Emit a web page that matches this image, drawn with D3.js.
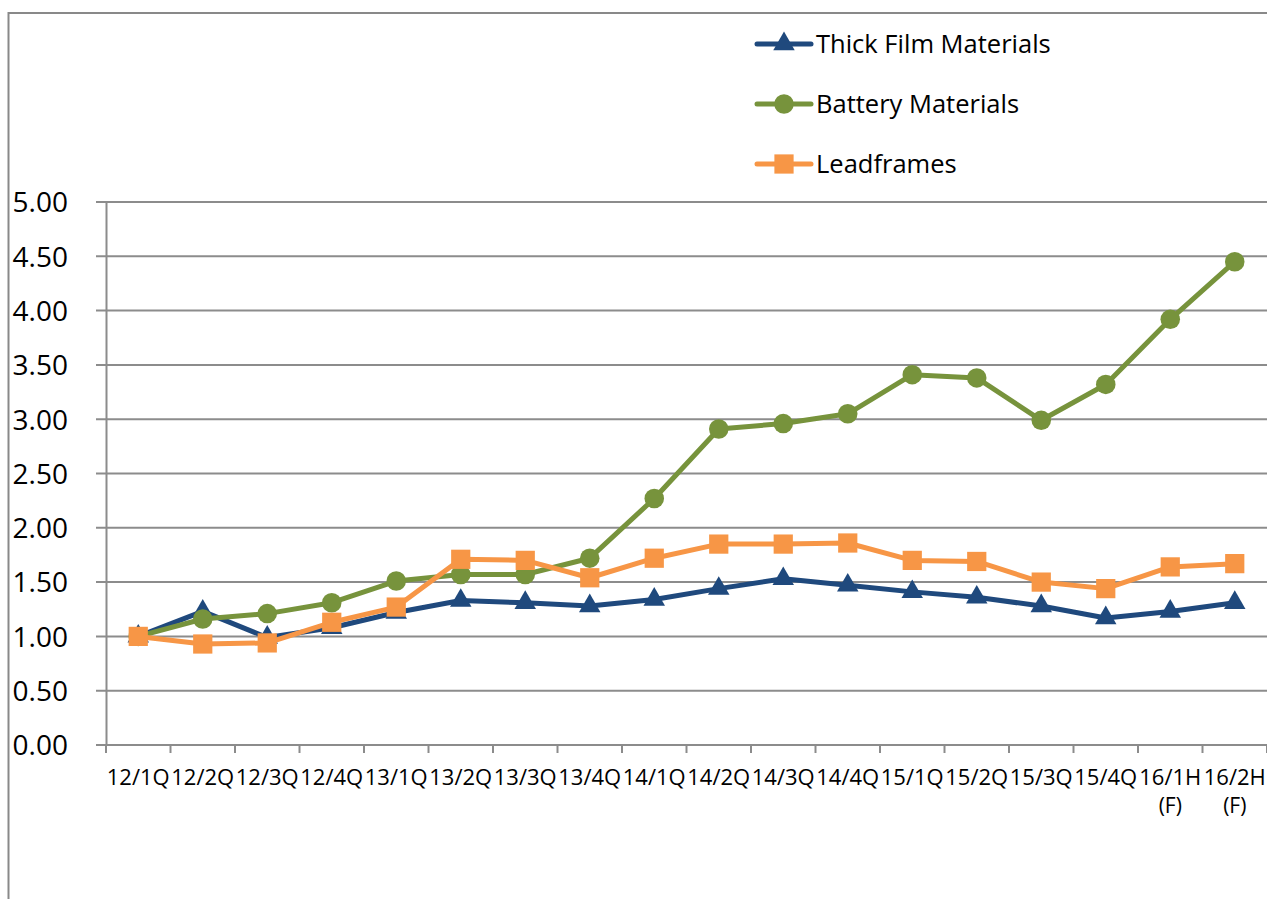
<!DOCTYPE html>
<html>
<head>
<meta charset="utf-8">
<script src="https://cdn.jsdelivr.net/npm/d3@7"></script>
<style>
  body { margin: 0; background: #fff; }
  text { font-family: "Open Sans", "Noto Sans", sans-serif; fill: #000; }
</style>
</head>
<body>
<div id="chart"></div>
<script>
var svgWidth = 1267;
var svgHeight = 899;

// quarters on the x axis, second line only for forecasts
var categories = ["12/1Q", "12/2Q", "12/3Q", "12/4Q", "13/1Q", "13/2Q", "13/3Q", "13/4Q",
  "14/1Q", "14/2Q", "14/3Q", "14/4Q", "15/1Q", "15/2Q", "15/3Q", "15/4Q", "16/1H", "16/2H"];
var subLabels = ["", "", "", "", "", "", "", "", "", "", "", "", "", "", "", "", "(F)", "(F)"];

var thickFilm = [1.00, 1.23, 0.99, 1.08, 1.22, 1.33, 1.31, 1.28, 1.34, 1.44, 1.53, 1.47,
  1.41, 1.36, 1.28, 1.17, 1.23, 1.31];
var battery = [1.00, 1.16, 1.21, 1.31, 1.51, 1.57, 1.57, 1.72, 2.27, 2.91, 2.96, 3.05,
  3.41, 3.38, 2.99, 3.32, 3.92, 4.45];
var leadframes = [1.00, 0.93, 0.94, 1.13, 1.27, 1.71, 1.70, 1.54, 1.72, 1.85, 1.85, 1.86,
  1.70, 1.69, 1.50, 1.44, 1.64, 1.67];

var yTicks = [0, 0.5, 1, 1.5, 2, 2.5, 3, 3.5, 4, 4.5, 5];

var series = [
  {name: "Thick Film Materials", values: thickFilm, color: "#1F497D", symbol: d3.symbolTriangle, size: 200},
  {name: "Battery Materials", values: battery, color: "#77933C", symbol: d3.symbolCircle, size: 300},
  {name: "Leadframes", values: leadframes, color: "#F79646", symbol: d3.symbolSquare, size: 370}
];

var margin = {top: 202, left: 106, right: 0, bottom: 154};
var width = svgWidth - margin.left - margin.right;
var height = svgHeight - margin.top - margin.bottom;

var svg = d3.select("#chart")
  .append("svg")
  .attr("width", svgWidth)
  .attr("height", svgHeight);

// outer chart border (runs off the right and bottom of the picture)
svg.append("rect")
  .attr("x", 8.5)
  .attr("y", 13)
  .attr("width", 1400)
  .attr("height", 1000)
  .attr("fill", "none")
  .attr("stroke", "#898989")
  .attr("stroke-width", 2);

var chartGroup = svg.append("g")
  .attr("transform", `translate(${margin.left}, ${margin.top})`);

var xScale = d3.scaleBand()
  .domain(categories)
  .range([0, width]);

var yScale = d3.scaleLinear()
  .domain([0, 5])
  .range([height, 0]);

// gridlines with the little outside tick
chartGroup.append("g")
  .selectAll("line")
  .data(yTicks)
  .enter()
  .append("line")
  .attr("x1", -10)
  .attr("x2", width)
  .attr("y1", d => yScale(d))
  .attr("y2", d => yScale(d))
  .attr("stroke", "#8c8c8c")
  .attr("stroke-width", 2);

// y axis
var leftAxis = d3.axisLeft(yScale)
  .tickValues(yTicks)
  .tickFormat(d3.format(".2f"))
  .tickSize(0)
  .tickPadding(38);

var yAxis = chartGroup.append("g").call(leftAxis);
yAxis.select(".domain").attr("stroke", "#8c8c8c").attr("stroke-width", 2);
yAxis.selectAll("text")
  .style("font-size", "28px")
  .attr("dy", "0.35em");

// x axis: ticks on category boundaries
var xAxisG = chartGroup.append("g")
  .attr("transform", `translate(0, ${height})`);

xAxisG.append("line")
  .attr("x1", 0)
  .attr("x2", width)
  .attr("stroke", "#8c8c8c")
  .attr("stroke-width", 2);

xAxisG.selectAll(".tick")
  .data(d3.range(categories.length + 1))
  .enter()
  .append("line")
  .attr("x1", i => i * xScale.step())
  .attr("x2", i => i * xScale.step())
  .attr("y1", 0)
  .attr("y2", 8)
  .attr("stroke", "#8c8c8c")
  .attr("stroke-width", 2);

xAxisG.selectAll(".xlab")
  .data(categories)
  .enter()
  .append("text")
  .attr("class", "xlab")
  .attr("text-anchor", "middle")
  .attr("x", d => xScale(d) + xScale.bandwidth() / 2)
  .attr("y", 40)
  .style("font-size", "22px")
  .text(d => d);

xAxisG.selectAll(".xsub")
  .data(categories)
  .enter()
  .append("text")
  .attr("class", "xsub")
  .attr("text-anchor", "middle")
  .attr("x", d => xScale(d) + xScale.bandwidth() / 2)
  .attr("y", 68)
  .style("font-size", "21px")
  .text((d, i) => subLabels[i]);

var line = d3.line()
  .x((d, i) => xScale(categories[i]) + xScale.bandwidth() / 2)
  .y(d => yScale(d));

series.forEach(function(s) {
  var g = chartGroup.append("g");
  g.append("path")
    .datum(s.values)
    .attr("d", line)
    .attr("fill", "none")
    .attr("stroke", s.color)
    .attr("stroke-width", 5)
    .attr("stroke-linejoin", "round");

  g.selectAll("path.marker")
    .data(s.values)
    .enter()
    .append("path")
    .attr("class", "marker")
    .attr("d", d3.symbol().type(s.symbol).size(s.size))
    .attr("transform", (d, i) => `translate(${xScale(categories[i]) + xScale.bandwidth() / 2}, ${yScale(d)})`)
    .attr("fill", s.color);
});

// legend
var legend = svg.append("g")
  .attr("transform", "translate(757, 44)");

var legendItems = legend.selectAll("g")
  .data(series)
  .enter()
  .append("g")
  .attr("transform", (d, i) => `translate(0, ${i * 60})`);

legendItems.append("line")
  .attr("x1", 0)
  .attr("x2", 54)
  .attr("stroke", d => d.color)
  .attr("stroke-width", 5)
  .attr("stroke-linecap", "round");

legendItems.append("path")
  .attr("d", d => d3.symbol().type(d.symbol).size(d.size)())
  .attr("transform", "translate(27, 0)")
  .attr("fill", d => d.color);

legendItems.append("text")
  .attr("x", 59)
  .attr("dy", "0.35em")
  .style("font-size", "25.5px")
  .text(d => d.name);
</script>
</body>
</html>
